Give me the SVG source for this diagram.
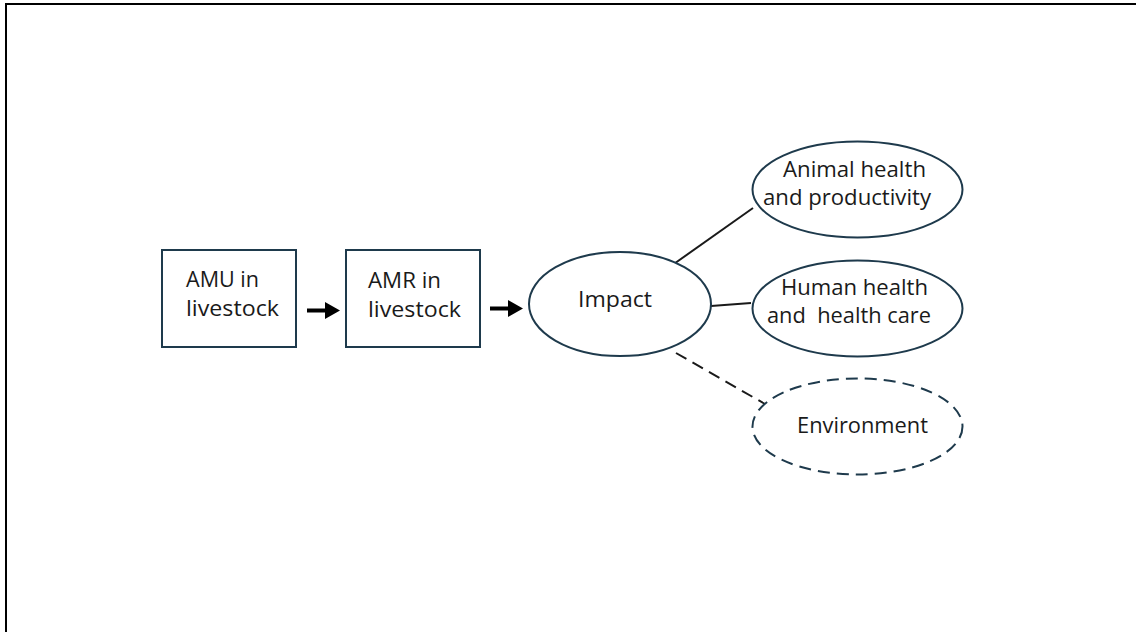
<svg xmlns="http://www.w3.org/2000/svg" width="1136" height="632" viewBox="0 0 1136 632">
<style>
.box{fill:#fff;stroke:#1e3a4c;stroke-width:2}
.ell{fill:#fff;stroke:#1e3a4c;stroke-width:2}
.dash{stroke-dasharray:12 7}
.t{font-family:"Open Sans","Liberation Sans",sans-serif;font-size:21px;fill:#1a1a1a}
.ln{stroke:#1a1a1a;stroke-width:2;fill:none}
.arr{fill:#000}
</style>
<rect x="0" y="0" width="1136" height="632" fill="#fff"/>
<path d="M6,632 V4 H1136" fill="none" stroke="#000" stroke-width="2"/>
<g id="connectors">
<path class="arr" d="M307,308.5 H325 V302 L340,310.5 L325,319 V312.5 H307 Z"/>
<path class="arr" d="M490,306.5 H508 V300 L523,308.5 L508,317 V310.5 H490 Z"/>
<line class="ln" x1="671" y1="266" x2="753" y2="208"/>
<line class="ln" x1="711" y1="306" x2="751" y2="303"/>
<line class="ln dash" x1="676" y1="353" x2="765" y2="404"/>
</g>
<g id="amu">
<rect class="box" x="162" y="250" width="134" height="97"/>
<text class="t" x="186" y="287" textLength="73" lengthAdjust="spacingAndGlyphs">AMU in</text>
<text class="t" x="186" y="316" textLength="93" lengthAdjust="spacingAndGlyphs">livestock</text>
</g>
<g id="amr">
<rect class="box" x="346" y="250" width="134" height="97"/>
<text class="t" x="368" y="288" textLength="73" lengthAdjust="spacingAndGlyphs">AMR in</text>
<text class="t" x="368" y="317" textLength="93" lengthAdjust="spacingAndGlyphs">livestock</text>
</g>
<g id="impact">
<ellipse class="ell" cx="620" cy="304" rx="91" ry="52"/>
<text class="t" x="578" y="307" textLength="74" lengthAdjust="spacingAndGlyphs">Impact</text>
</g>
<g id="animal">
<ellipse class="ell" cx="857.5" cy="189.5" rx="105" ry="48"/>
<text class="t" x="783" y="177" textLength="143" lengthAdjust="spacingAndGlyphs">Animal health</text>
<text class="t" x="763" y="205" textLength="168" lengthAdjust="spacingAndGlyphs">and productivity</text>
</g>
<g id="human">
<ellipse class="ell" cx="857.5" cy="308.5" rx="105" ry="48"/>
<text class="t" x="781" y="295" textLength="147" lengthAdjust="spacingAndGlyphs">Human health</text>
<text class="t" x="767" y="323" xml:space="preserve" textLength="164" lengthAdjust="spacingAndGlyphs">and  health care</text>
</g>
<g id="environment">
<ellipse class="ell dash" cx="857.5" cy="426.5" rx="105" ry="48"/>
<text class="t" x="797" y="433" textLength="131" lengthAdjust="spacingAndGlyphs">Environment</text>
</g>
</svg>
